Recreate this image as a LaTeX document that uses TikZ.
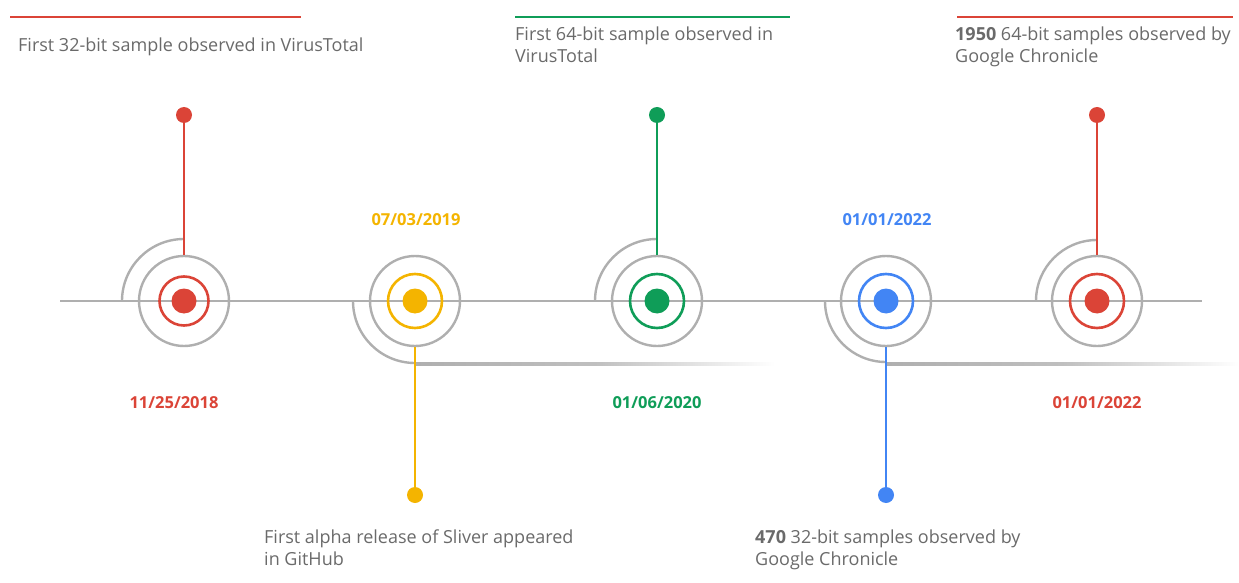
\documentclass[tikz,border=0pt]{standalone}
\usepackage{fontspec}
\setmainfont{Open Sans}
\definecolor{gred}{HTML}{DB4437}
\definecolor{gyellow}{HTML}{F4B400}
\definecolor{ggreen}{HTML}{0F9D58}
\definecolor{gblue}{HTML}{4285F4}
\definecolor{lgray}{HTML}{AFAFAF}
\definecolor{tgray}{HTML}{6A6A6A}
\begin{document}
\begin{tikzpicture}[x=1pt,y=1pt,
  gline/.style={draw=lgray,line width=2.4pt},
  ringg/.style={circle,draw=lgray,line width=2.4pt,minimum size=90pt,inner sep=0pt},
  ringc/.style={circle,draw=#1,line width=2.6pt,minimum size=54pt,inner sep=0pt},
  dotc/.style={circle,fill=#1,minimum size=25pt,inner sep=0pt},
  sdot/.style={circle,fill=#1,minimum size=16pt,inner sep=0pt},
  stem/.style={draw=#1,line width=2.2pt},
  topbar/.style={draw=#1,line width=2.6pt},
  desc/.style={anchor=base west,align=left,text=tgray,font=\fontsize{18}{22}\selectfont,inner sep=0pt},
  datel/.style={text=#1,font=\fontsize{16.5}{20}\selectfont\bfseries,inner sep=0pt}]
\useasboundingbox (0,0) rectangle (1239,582);

% main line
\draw[gline] (60,281) -- (1202,281);

% fading lower lines
\shade[left color=lgray,right color=white,middle color=lgray!80] (415,216.9) rectangle (775,219.1);
\shade[left color=lgray,right color=white,middle color=lgray!80] (886,216.9) rectangle (1239,219.1);

% quarter arcs
\draw[gline] (122,281) arc[start angle=180,end angle=90,radius=62];
\draw[gline] (353,281) arc[start angle=180,end angle=270,radius=62];
\draw[gline] (595,281) arc[start angle=180,end angle=90,radius=62];
\draw[gline] (825,281) arc[start angle=180,end angle=270,radius=61];
\draw[gline] (1036,281) arc[start angle=180,end angle=90,radius=61];

% circles
\node[ringg] (g1) at (184,281) {};
\node[ringc=gred,minimum size=49pt] (c1) at (184,281) {};
\node[dotc=gred] (d1) at (184,281) {};
\node[ringg] (g2) at (415,281) {};
\node[ringc=gyellow] (c2) at (415,281) {};
\node[dotc=gyellow] (d2) at (415,281) {};
\node[ringg] (g3) at (657,281) {};
\node[ringc=ggreen] (c3) at (657,281) {};
\node[dotc=ggreen] (d3) at (657,281) {};
\node[ringg] (g4) at (886,281) {};
\node[ringc=gblue] (c4) at (886,281) {};
\node[dotc=gblue] (d4) at (886,281) {};
\node[ringg] (g5) at (1097,281) {};
\node[ringc=gred] (c5) at (1097,281) {};
\node[dotc=gred] (d5) at (1097,281) {};

% end dots and stems
\node[sdot=gred] (t1) at (184,467) {};
\node[sdot=gyellow] (t2) at (415,87) {};
\node[sdot=ggreen] (t3) at (657,467) {};
\node[sdot=gblue] (t4) at (886,87) {};
\node[sdot=gred] (t5) at (1097,467) {};
\draw[stem=gred] (g1.north) -- (t1.center);
\draw[stem=gyellow] (g2.south) -- (t2.center);
\draw[stem=ggreen] (g3.north) -- (t3.center);
\draw[stem=gblue] (g4.south) -- (t4.center);
\draw[stem=gred] (g5.north) -- (t5.center);

% top bars
\draw[topbar=gred] (10,565) -- (301,565);
\draw[topbar=ggreen] (515,565) -- (790,565);
\draw[topbar=gred] (957,565) -- (1233,565);

% descriptions
\node[desc] (x1) at (18,530) {First 32-bit sample observed in VirusTotal};
\node[desc] (x3) at (515,519) {First 64-bit sample observed in\\VirusTotal};
\node[desc] (x5) at (955,519) {\textbf{1950} 64-bit samples observed by\\Google Chronicle};
\node[desc] (x2) at (264,17) {First alpha release of Sliver appeared\\in GitHub};
\node[desc] (x4) at (755,17) {\textbf{470} 32-bit samples observed by\\Google Chronicle};

% dates
\node[datel=gred] (dt1) at (174,179) {11/25/2018};
\node[datel=gyellow] (dt2) at (416,362) {07/03/2019};
\node[datel=ggreen] (dt3) at (657,179) {01/06/2020};
\node[datel=gblue] (dt4) at (887,362) {01/01/2022};
\node[datel=gred] (dt5) at (1097,179) {01/01/2022};
\end{tikzpicture}
\end{document}
